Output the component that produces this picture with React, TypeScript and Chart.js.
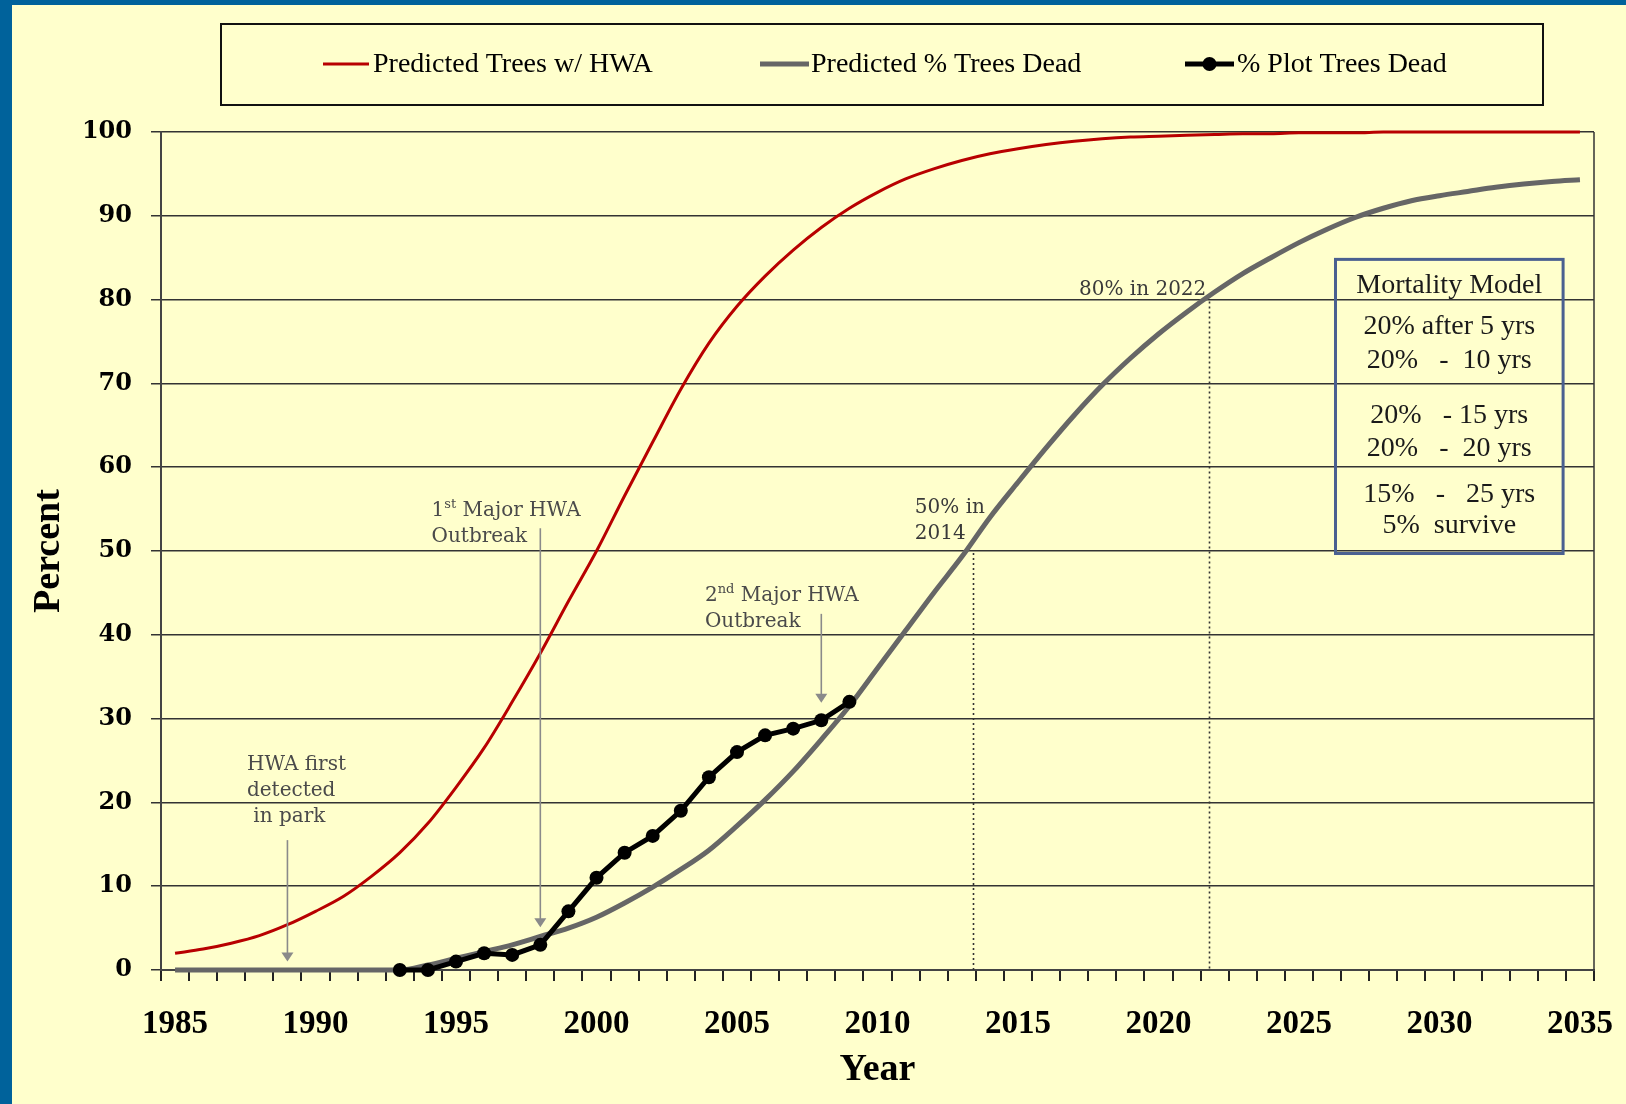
import React, { useEffect, useRef } from "react";
import { Chart, registerables } from "chart.js";

Chart.register(...registerables);

// ---------- DATA ----------
const yearLabels = [
  "1985", "1986", "1987", "1988", "1989", "1990", "1991", "1992", "1993", "1994",
  "1995", "1996", "1997", "1998", "1999", "2000", "2001", "2002", "2003", "2004",
  "2005", "2006", "2007", "2008", "2009", "2010", "2011", "2012", "2013", "2014",
  "2015", "2016", "2017", "2018", "2019", "2020", "2021", "2022", "2023", "2024",
  "2025", "2026", "2027", "2028", "2029", "2030", "2031", "2032", "2033", "2034",
  "2035",
];

const predictedTreesHWA = [
  2.0, 2.5, 3.2, 4.1, 5.4, 7.0, 8.8, 11.2, 14.0, 17.5,
  21.8, 26.5, 32.0, 37.8, 44.0, 50.0, 56.6, 63.0, 69.3, 74.8,
  79.2, 82.8, 85.9, 88.6, 90.9, 92.8, 94.4, 95.6, 96.6, 97.4,
  98.0, 98.5, 98.9, 99.2, 99.4, 99.5, 99.6, 99.7, 99.8, 99.8,
  99.9, 99.9, 99.9, 100, 100, 100, 100, 100, 100, 100,
  100,
];

const predictedPctDead = [
  0, 0, 0, 0, 0, 0, 0, 0, 0, 0.6,
  1.4, 2.2, 3.0, 4.0, 5.0, 6.3, 8.0, 9.9, 12.0, 14.3,
  17.2, 20.3, 23.7, 27.5, 31.5, 36.0, 40.5, 45.0, 49.3, 54.0,
  58.2, 62.3, 66.2, 69.8, 73.0, 75.9, 78.5, 80.9, 83.1, 85.0,
  86.8, 88.4, 89.8, 90.9, 91.8, 92.4, 92.9, 93.4, 93.8, 94.1,
  94.3,
];

const plotTreesDead = [
  null, null, null, null, null, null, null, null, 0, 0,
  1, 2, 1.8, 3, 7, 11, 14, 16, 19, 23,
  26, 28, 28.8, 29.8, 32, null, null, null, null, null,
  null, null, null, null, null, null, null, null, null, null,
  null, null, null, null, null, null, null, null, null, null,
  null,
];

const seriesNames = ["Predicted Trees w/ HWA", "Predicted % Trees Dead", "% Plot Trees Dead"];

const yTicks = [0, 10, 20, 30, 40, 50, 60, 70, 80, 90, 100];

// annotation anchors (year, percent)
const arrowYears = [1989, 1998, 2008];
const arrowFrom = [15.5, 52.7, 42.5];
const arrowTo = [1.0, 5.1, 31.9];

const dropYears = [2013.4, 2021.8];
const dropFrom = [50, 80];

const noteYears = [1987.56, 1994.13, 2003.86, 2011.33, 2017.17];
const noteValues = [23.9, 54.2, 44.0, 54.5, 80.5];
const noteLines: Array<Array<Array<[string, boolean]>>> = [
  [[["HWA first", false]], [["detected", false]], [[" in park", false]]],
  [[["1", false], ["st", true], [" Major HWA", false]], [["Outbreak", false]]],
  [[["2", false], ["nd", true], [" Major HWA", false]], [["Outbreak", false]]],
  [[["50% in", false]], [["2014", false]]],
  [[["80% in 2022", false]]],
];

const modelBoxYears = [2026.3, 2034.4];
const modelBoxValues = [84.8, 49.7];
const modelTitle = "Mortality Model";
const modelLines = [
  "20% after 5 yrs",
  "20%   -  10 yrs",
  "20%   - 15 yrs",
  "20%   -  20 yrs",
  "15%   -   25 yrs",
  "5%  survive",
];

// ---------- STYLES ----------
const RED = "#B80000";
const GRAY = "#666666";
const BLACK = "#000000";
const SERIF = "'Liberation Serif', 'Times New Roman', serif";
const NOTE_FONT = "20px 'DejaVu Serif', serif";

const annotationPlugin = {
  id: "hwaAnnotations",
  afterDatasetsDraw(chart: any) {
    const ctx = chart.ctx as CanvasRenderingContext2D;
    const xs = chart.scales.x;
    const ys = chart.scales.y;
    const area = chart.chartArea;
    const px = (yr: number) => xs.getPixelForValue(yr - 1985);
    const py = (v: number) => ys.getPixelForValue(v);
    ctx.save();

    // right border of plot area
    ctx.strokeStyle = "#333";
    ctx.lineWidth = 1.5;
    ctx.beginPath();
    ctx.moveTo(area.right, area.top);
    ctx.lineTo(area.right, area.bottom);
    ctx.stroke();

    // dotted drop lines
    ctx.strokeStyle = "#333";
    ctx.lineWidth = 1.6;
    ctx.setLineDash([2, 3]);
    dropYears.forEach((yr, i) => {
      const x = Math.round(px(yr)) + 0.5;
      ctx.beginPath();
      ctx.moveTo(x, py(dropFrom[i]) + 2);
      ctx.lineTo(x, area.bottom);
      ctx.stroke();
    });
    ctx.setLineDash([]);

    // arrows
    ctx.strokeStyle = "#8a8a8a";
    ctx.fillStyle = "#8a8a8a";
    ctx.lineWidth = 1.6;
    arrowYears.forEach((yr, i) => {
      const x = px(yr);
      const y0 = py(arrowFrom[i]);
      const y1 = py(arrowTo[i]);
      ctx.beginPath();
      ctx.moveTo(x, y0);
      ctx.lineTo(x, y1 - 8);
      ctx.stroke();
      ctx.beginPath();
      ctx.moveTo(x - 6, y1 - 9);
      ctx.lineTo(x + 6, y1 - 9);
      ctx.lineTo(x, y1);
      ctx.closePath();
      ctx.fill();
    });

    // notes
    ctx.textBaseline = "alphabetic";
    ctx.textAlign = "left";
    noteLines.forEach((lines, i) => {
      let y = py(noteValues[i]);
      const x0 = px(noteYears[i]);
      ctx.fillStyle = i >= 3 ? "#3a3a3a" : "#4a4a4a";
      lines.forEach((segs) => {
        let x = x0;
        segs.forEach(([t, sup]) => {
          ctx.font = sup ? "13px 'DejaVu Serif', serif" : NOTE_FONT;
          ctx.fillText(t, x, sup ? y - 8 : y);
          x += ctx.measureText(t).width;
        });
        y += 26;
      });
    });

    // mortality model box
    const bx0 = px(modelBoxYears[0]);
    const bx1 = px(modelBoxYears[1]);
    const by0 = py(modelBoxValues[0]);
    const by1 = py(modelBoxValues[1]);
    ctx.strokeStyle = "#4A6090";
    ctx.lineWidth = 3;
    ctx.strokeRect(bx0, by0, bx1 - bx0, by1 - by0);
    const cx = (bx0 + bx1) / 2;
    ctx.fillStyle = "#1a1a1a";
    ctx.textAlign = "center";
    ctx.font = `28px ${SERIF}`;
    ctx.fillText(modelTitle, cx, by0 + 34);
    const offs = [75, 109, 164, 197, 243, 274];
    modelLines.forEach((t, i) => {
      ctx.fillText(t, cx, by0 + offs[i]);
    });

    ctx.restore();
  },
};

const legendPlugin = {
  id: "boxedLegend",
  afterDraw(chart: any) {
    const ctx = chart.ctx as CanvasRenderingContext2D;
    ctx.save();
    ctx.strokeStyle = "#111";
    ctx.lineWidth = 2;
    ctx.strokeRect(221, 24, 1322, 81);
    const items = [
      { x0: 323, x1: 369, tx: 373 },
      { x0: 760, x1: 809, tx: 811 },
      { x0: 1185, x1: 1234, tx: 1237 },
    ];
    const y = 64;
    chart.data.datasets.forEach((ds: any, i: number) => {
      const it = items[i];
      ctx.strokeStyle = ds.borderColor;
      ctx.lineWidth = ds.borderWidth;
      ctx.lineCap = "butt";
      ctx.beginPath();
      ctx.moveTo(it.x0, y);
      ctx.lineTo(it.x1, y);
      ctx.stroke();
      if (ds.pointRadius > 0) {
        ctx.fillStyle = ds.pointBackgroundColor;
        ctx.beginPath();
        ctx.arc((it.x0 + it.x1) / 2, y, ds.pointRadius, 0, Math.PI * 2);
        ctx.fill();
      }
      ctx.fillStyle = "#000";
      ctx.font = `28px ${SERIF}`;
      ctx.textAlign = "left";
      ctx.textBaseline = "middle";
      ctx.fillText(ds.label, it.tx, y + 1);
    });
    ctx.restore();
  },
};

export default function App() {
  const canvasRef = useRef<HTMLCanvasElement | null>(null);

  useEffect(() => {
    if (!canvasRef.current) return;
    const chart = new Chart(canvasRef.current, {
      type: "line",
      data: {
        labels: yearLabels,
        datasets: [
          {
            label: seriesNames[0],
            data: predictedTreesHWA,
            borderColor: RED,
            backgroundColor: RED,
            borderWidth: 3,
            pointRadius: 0,
            cubicInterpolationMode: "monotone",
            order: 2,
            clip: false,
          },
          {
            label: seriesNames[1],
            data: predictedPctDead,
            borderColor: GRAY,
            backgroundColor: GRAY,
            borderWidth: 5,
            pointRadius: 0,
            cubicInterpolationMode: "monotone",
            order: 1,
            clip: false,
          },
          {
            label: seriesNames[2],
            data: plotTreesDead,
            borderColor: BLACK,
            backgroundColor: BLACK,
            pointBackgroundColor: BLACK,
            pointBorderColor: BLACK,
            borderWidth: 5,
            pointRadius: 7,
            pointBorderWidth: 0,
            tension: 0,
            spanGaps: false,
            order: 0,
            clip: false,
          },
        ] as any,
      },
      options: {
        responsive: false,
        animation: false,
        devicePixelRatio: 1,
        layout: { padding: { left: 0, top: 132, right: 32, bottom: 0 } },
        plugins: {
          legend: { display: false },
          tooltip: { enabled: false },
          title: { display: false },
        },
        scales: {
          x: {
            type: "category",
            offset: true,
            grid: {
              display: true,
              offset: true,
              drawOnChartArea: false,
              drawTicks: true,
              tickLength: 11,
              color: "#222",
              lineWidth: 2,
            },
            border: { display: true, color: "#444", width: 2 },
            ticks: {
              autoSkip: false,
              maxRotation: 0,
              minRotation: 0,
              padding: 24,
              color: "#000",
              font: { family: SERIF, weight: "bold", size: 33 },
              callback: (_v: any, i: number) =>
                Number(yearLabels[i]) % 5 === 0 ? yearLabels[i] : "",
            },
            title: {
              display: true,
              text: "Year",
              color: "#000",
              font: { family: SERIF, weight: "bold", size: 38 },
              padding: { top: 0, bottom: 11 },
            },
            afterFit: (s: any) => {
              s.height = 134;
              s.paddingLeft = 0;
              s.paddingRight = 0;
            },
          },
          y: {
            min: 0,
            max: 100,
            afterBuildTicks: (s: any) => {
              s.ticks = yTicks.map((v) => ({ value: v }));
            },
            grid: {
              color: "#333",
              lineWidth: 1.5,
              drawTicks: true,
              tickLength: 10,
            },
            border: { display: true, color: "#444", width: 2 },
            ticks: {
              padding: 19,
              color: "#000",
              font: { family: "'DejaVu Serif', serif", weight: "bold", size: 24 },
            },
            title: {
              display: true,
              text: "Percent",
              color: "#000",
              font: { family: SERIF, weight: "bold", size: 38 },
              padding: { top: 26, bottom: 0 },
            },
            afterFit: (s: any) => {
              s.width = 161;
            },
          },
        },
      } as any,
      plugins: [annotationPlugin, legendPlugin],
    });
    return () => chart.destroy();
  }, []);

  return (
    <div
      style={{
        position: "fixed",
        left: 0,
        top: 0,
        width: 1626,
        height: 1104,
        background: "#00629B",
        overflow: "hidden",
      }}
    >
      <div
        style={{
          position: "absolute",
          left: 12,
          top: 5,
          right: 0,
          bottom: 0,
          background: "#FFFFCC",
        }}
      />
      <canvas
        ref={canvasRef}
        width={1626}
        height={1104}
        style={{ position: "absolute", left: 0, top: 0, width: 1626, height: 1104 }}
      />
    </div>
  );
}
